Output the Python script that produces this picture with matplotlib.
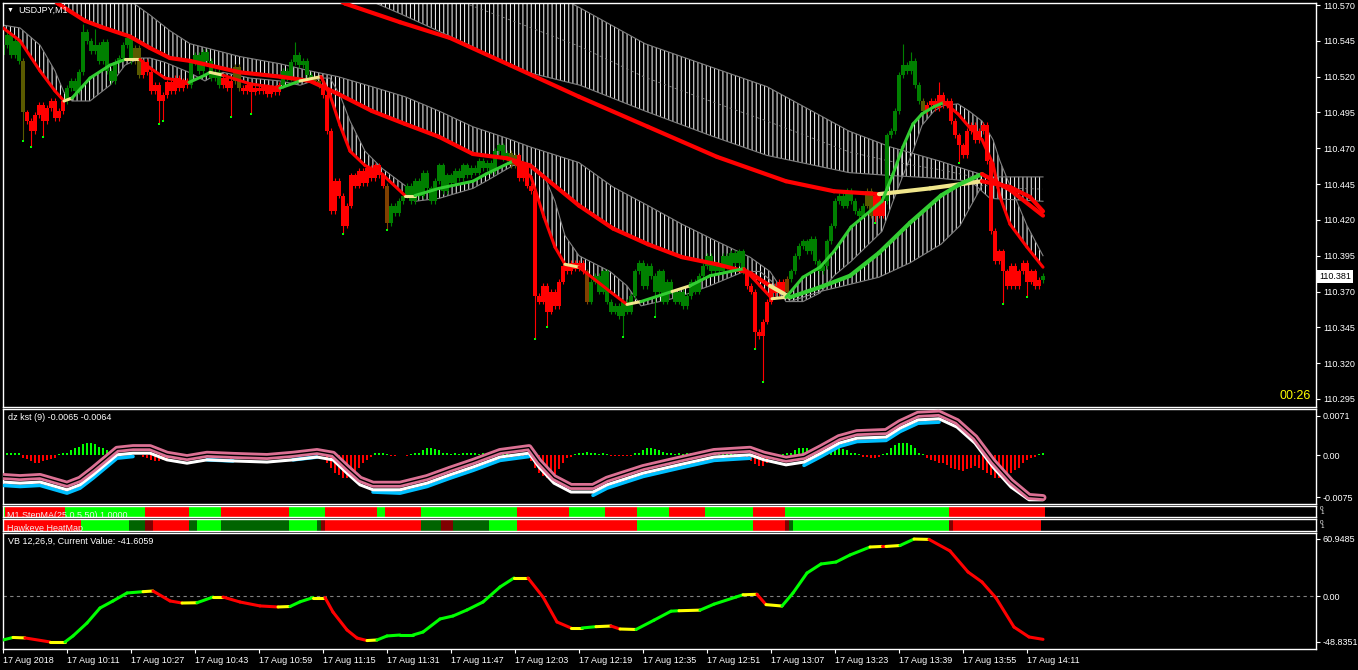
import matplotlib
matplotlib.use("Agg")
import matplotlib.pyplot as plt
import numpy as np

W, H = 1358, 670
FG = "white"
GRAY = "#808080"

plt.rcParams["font.family"] = ["Liberation Sans", "DejaVu Sans"]
plt.rcParams["hatch.color"] = "white"
plt.rcParams["hatch.linewidth"] = 0.7

# USDJPY M1 candles, 17 Aug 2018 09:55 .. 14:15 (bar index 0..260)
first_open = 110.535
closes = [
    110.542, 110.549, 110.535, 110.545, 110.531, 110.495, 110.489, 110.482, 110.493, 110.500,
    110.489, 110.498, 110.503, 110.491, 110.496, 110.503, 110.512, 110.517, 110.510, 110.523,
    110.551, 110.545, 110.538, 110.542, 110.531, 110.544, 110.524, 110.517, 110.530, 110.533,
    110.542, 110.547, 110.531, 110.540, 110.521, 110.530, 110.523, 110.510, 110.514, 110.503,
    110.507, 110.516, 110.510, 110.519, 110.512, 110.517, 110.514, 110.530, 110.535, 110.524,
    110.537, 110.531, 110.519, 110.523, 110.514, 110.519, 110.512, 110.517, 110.527, 110.512,
    110.510, 110.514, 110.509, 110.512, 110.510, 110.513, 110.508, 110.512, 110.509, 110.514,
    110.524, 110.519, 110.530, 110.535, 110.528, 110.531, 110.521, 110.519, 110.517, 110.514,
    110.507, 110.482, 110.426, 110.447, 110.437, 110.416, 110.430, 110.451, 110.444, 110.454,
    110.446, 110.456, 110.449, 110.458, 110.451, 110.444, 110.418, 110.430, 110.425, 110.433,
    110.437, 110.444, 110.433, 110.447, 110.437, 110.453, 110.442, 110.433, 110.447, 110.458,
    110.440, 110.451, 110.446, 110.454, 110.449, 110.458, 110.451, 110.456, 110.453, 110.461,
    110.456, 110.460, 110.454, 110.468, 110.472, 110.463, 110.467, 110.458, 110.465, 110.449,
    110.458, 110.444, 110.440, 110.367, 110.363, 110.374, 110.356, 110.370, 110.360, 110.377,
    110.388, 110.384, 110.390, 110.386, 110.390, 110.384, 110.363, 110.377, 110.381, 110.370,
    110.384, 110.363, 110.356, 110.360, 110.353, 110.363, 110.356, 110.367, 110.384, 110.390,
    110.374, 110.388, 110.381, 110.370, 110.384, 110.363, 110.377, 110.370, 110.363, 110.370,
    110.360, 110.367, 110.377, 110.370, 110.381, 110.388, 110.395, 110.384, 110.390, 110.384,
    110.395, 110.388, 110.397, 110.390, 110.398, 110.384, 110.374, 110.370, 110.342, 110.339,
    110.349, 110.363, 110.374, 110.369, 110.377, 110.370, 110.379, 110.384, 110.395, 110.402,
    110.405, 110.398, 110.407, 110.391, 110.384, 110.388, 110.405, 110.416, 110.433, 110.437,
    110.430, 110.440, 110.433, 110.426, 110.423, 110.430, 110.440, 110.423, 110.437, 110.423,
    110.433, 110.479, 110.482, 110.496, 110.521, 110.528, 110.524, 110.531, 110.514, 110.503,
    110.496, 110.500, 110.503, 110.498, 110.507, 110.500, 110.503, 110.489, 110.479, 110.472,
    110.465, 110.482, 110.486, 110.476, 110.482, 110.486, 110.461, 110.412, 110.391, 110.398,
    110.384, 110.374, 110.388, 110.374, 110.384, 110.390, 110.377, 110.384, 110.374, 110.378,
    110.381,
]
wick_highs = {20: 110.557, 23: 110.553, 31: 110.550, 73: 110.544, 225: 110.543, 227: 110.537,
              234: 110.516}
wick_lows = {5: 110.475, 7: 110.471, 10: 110.478, 39: 110.487, 40: 110.489, 57: 110.492,
             62: 110.494, 85: 110.410, 96: 110.413, 133: 110.337, 136: 110.345, 155: 110.338,
             163: 110.352, 188: 110.330, 190: 110.307, 218: 110.418, 239: 110.460, 250: 110.361,
             256: 110.366}
trend_start = [0, 5, 6, 16, 33, 35, 47, 55, 58, 60, 70, 78, 80, 96, 97, 127, 129, 146, 147,
               186, 196, 197, 216, 218, 221, 230, 231, 260]
trend_state = ["up", "flat", "down", "up", "flat", "down", "up", "down", "flat", "down",
               "up", "flat", "down", "turn", "up", "flat", "down", "turn", "up", "down",
               "turn", "up", "flat", "down", "up", "flat", "down", "up"]

# moving averages (bar index, price, colour state of the following segment)
slow_x = [82, 85.5, 99.25, 111.75, 126.75, 144, 161.25, 178.5, 195.75, 207.75, 219, 231.75,
          244.75, 251.75, 256.75, 260]
slow_y = [110.577, 110.571, 110.558, 110.547, 110.528, 110.506, 110.485, 110.464, 110.447,
          110.440, 110.438, 110.442, 110.447, 110.443, 110.436, 110.426]
slow_state = ["down"] * 10 + ["flat", "flat"] + ["down"] * 4

cloud_x = [86.75, 99.25, 114.25, 129.75, 144.25, 160.5, 176.75, 191, 211.5, 221.75, 234.25,
           242, 246.75, 260]
cloud_top = [110.620, 110.610, 110.600, 110.589, 110.568, 110.543, 110.527, 110.513, 110.482,
             110.471, 110.461, 110.454, 110.450, 110.450]
cloud_bot = [110.579, 110.564, 110.545, 110.524, 110.514, 110.496, 110.479, 110.465, 110.453,
             110.451, 110.449, 110.447, 110.435, 110.433]

mid_x = [10.5, 13.75, 20.5, 24.25, 31.75, 36.75, 41.75, 46.75, 59.25, 69.25, 76.75, 83.75,
         92.25, 100.5, 109, 117.5, 126, 131.75, 144, 152.5, 161.25, 169.75, 178.5, 186.75,
         191.75, 196.75, 204.25, 211.75, 219, 226.75, 234.5, 239.25, 244.75, 251.75, 260]
mid_y = [110.580, 110.571, 110.559, 110.555, 110.548, 110.540, 110.533, 110.531, 110.523,
         110.520, 110.517, 110.508, 110.496, 110.487, 110.478, 110.466, 110.463, 110.458,
         110.430, 110.414, 110.403, 110.394, 110.389, 110.383, 110.374, 110.366, 110.373,
         110.381, 110.397, 110.418, 110.437, 110.445, 110.452, 110.441, 110.423]
mid_edge = [110.620, 110.610, 110.605, 110.598, 110.573, 110.563, 110.552, 110.543, 110.534,
            110.529, 110.524, 110.520, 110.513, 110.506, 110.496, 110.485, 110.477, 110.471,
            110.460, 110.443, 110.430, 110.417, 110.405, 110.394, 110.384, 110.363, 110.370,
            110.375, 110.380, 110.390, 110.403, 110.416, 110.444, np.nan, np.nan]
mid_state = ["down"] * 24 + ["flat"] + ["up"] * 7 + ["down"] * 3

fast_x = [0, 4.25, 9.25, 13, 15.25, 17.25, 21.75, 26.75, 30.5, 34.25,
          36.75, 40.5, 46.5, 50.5, 51.75, 55, 61.75, 69.25, 74.25, 79.5,
          81.75, 84.25, 86.75, 90.5, 94.75, 100.5, 103, 109, 117.5, 120.75,
          127.5, 132, 135.25, 138, 140.5, 144, 151.75, 156, 159.5, 167.25,
          171.75, 176.75, 185.25, 189.25, 192.25, 195.75, 200, 204.25, 207.75, 212,
          219.75, 222.5, 225, 227.5, 229.75, 232.75, 235.25, 238.75, 241.5, 244.75,
          247.5, 249.25, 251.75, 256, 260]
fast_y = [110.554, 110.545, 110.524, 110.510, 110.503, 110.505, 110.519, 110.528, 110.532, 110.532,
          110.526, 110.519, 110.516, 110.521, 110.523, 110.521, 110.515, 110.512, 110.517, 110.520,
          110.507, 110.486, 110.468, 110.458, 110.452, 110.437, 110.437, 110.442, 110.447, 110.452,
          110.461, 110.450, 110.422, 110.401, 110.389, 110.387, 110.370, 110.361, 110.363, 110.370,
          110.374, 110.381, 110.386, 110.374, 110.365, 110.366, 110.380, 110.387, 110.398, 110.415,
          110.433, 110.452, 110.471, 110.487, 110.494, 110.499, 110.502, 110.494, 110.485, 110.476,
          110.459, 110.436, 110.417, 110.401, 110.387]
fast_edge = [110.556, 110.554, 110.542, 110.524, 110.509, 110.503, 110.503, 110.514, 110.528, 110.533,
             110.533, 110.530, 110.523, 110.517, 110.519, 110.523, 110.519, 110.517, 110.514, 110.519,
             110.519, 110.507, 110.489, 110.468, 110.456, 110.444, 110.433, 110.435, 110.442, 110.447,
             110.458, 110.459, 110.451, 110.433, 110.409, 110.395, 110.384, 110.374, 110.360, 110.365,
             110.369, 110.374, 110.384, 110.384, 110.377, 110.363, 110.363, 110.369, 110.381, 110.391,
             110.412, 110.433, 110.451, 110.468, 110.486, 110.496, 110.500, 110.501, 110.496, 110.489,
             110.476, 110.461, 110.444, 110.416, 110.395]
fast_state = ["down", "down", "down", "down", "flat", "up", "up", "up", "flat", "down",
              "down", "down", "up", "up", "flat", "down", "down", "up", "flat", "down",
              "down", "down", "down", "down", "down", "flat", "up", "up", "up", "up",
              "down", "down", "down", "down", "flat", "down", "down", "flat", "up", "flat",
              "up", "up", "down", "down", "flat", "up", "up", "up", "up", "up",
              "up", "up", "up", "up", "up", "up", "down", "down", "down", "down",
              "down", "down", "down", "down", "down"]

price_ticks = [110.570, 110.545, 110.520, 110.495, 110.470, 110.445, 110.420, 110.395,
               110.370, 110.345, 110.320, 110.295]
last_price = 110.381

# dz kst (values in units of 1e-4)
kst_x = [0, 4.25, 9.25, 16, 19.25, 22.5, 26, 28.5, 32.5, 36.75, 41, 46, 51, 57.5, 66, 72.5,
         78.5, 82.5, 86, 89.25, 92.5, 99.25, 106, 111.75, 117.5, 124.25, 131.5, 134, 137.75,
         142, 147.5, 151, 160, 169, 177.75, 186.75, 190.25, 195.75, 200.25, 204.5, 209, 213.5,
         220.75, 224.25, 228.75, 234, 238.5, 243, 247.5, 252, 256.5, 260]
kst_main = [-38, -40, -38, -52, -43, -25, -4, 11, 14, 14, 2, -4, 2, 0, -2, 2, 7, 2, -22, -43,
            -52, -52, -40, -25, -11, 7, 14, -11, -40, -56, -56, -43, -22, -7, 7, 11, 2, -7, -2,
            14, 32, 41, 43, 59, 74, 76, 61, 32, -11, -47, -74, -76]
kst_signal = [-48, -50, -48, -62, -53, -35, -14, 1, 4, 4, -8, -14, -8, -10, -12, -8, -3, -8,
              -32, -53, -62, -62, -50, -35, -21, -3, 4, -21, -50, -66, -66, -53, -32, -17, -3,
              1, -8, -17, -12, 4, 22, 31, 33, 49, 64, 66, 51, 22, -21, -57, -80, -80]
nan = np.nan
kst_slow = [-54, -56, -54, -68, -59, -41, -20, -5, -2, nan, nan, nan, -8, -10, nan, -8, -3,
            nan, nan, nan, -66, -68, -56, -41, -27, -9, -2, nan, nan, nan, -72, -59, -38, -23,
            -9, -5, nan, nan, -18, -2, 16, 25, 27, 43, 58, 60, nan, nan, nan, nan, nan, nan]
kst_hist = [
    5, 5, 4, 4, 4, -4, -7, -11, -13, -13, -11, -9, -7, -4, 2, 4, 5, 9, 13, 16,
    20, 22, 22, 20, 16, 13, 9, 7, 5, 4, 4, 2, 2, 1, 1, -2, -5, -9, -11, -11,
    -9, -7, -5, -4, -2, -2, -1, 2, 4, 4, 5, 5, 4, 2, -2, -4, -5, -7, -5, -5,
    -4, -4, -4, -4, -4, -4, -4, -2, -2, -2, -2, -1, 4, 5, 7, 7, 5, 5, 4, 2,
    1, -14, -23, -31, -36, -40, -40, -36, -31, -22, -14, -9, -2, 4, 5, 5, 2, -1, -1, 1,
    1, -1, 2, 4, 5, 9, 13, 13, 11, 9, 5, 4, 2, 4, 2, 4, 5, 5, 4, 2,
    4, 5, 5, 4, 4, 5, 4, 2, 1, -2, -2, -4, -11, -22, -31, -38, -40, -38, -34, -25,
    -13, -5, -2, 2, 4, 5, 7, 5, 4, 2, 4, 2, -1, -1, -1, -1, -1, -1, 4, 5,
    9, 13, 13, 11, 9, 7, 5, 4, 2, 4, 2, 4, 4, 2, 2, 4, 5, 4, 4, 4,
    2, 4, 4, 2, 1, 1, -5, -11, -16, -20, -20, -13, -7, -4, -2, 2, 4, 5, 9, 13,
    13, 13, 7, 4, 2, 4, 5, 9, 13, 13, 11, 9, 5, 4, 2, -2, -2, -4, -4, -2,
    2, 5, 13, 18, 22, 23, 23, 18, 13, 5, 2, -5, -9, -11, -13, -14, -18, -22, -25, -27,
    -29, -25, -22, -20, -22, -27, -32, -36, -40, -41, -40, -36, -32, -27, -22, -14, -9, -4, -2, 2,
    4,
]

# M1 StepMA and Hawkeye HeatMap strips (first bar of each run)
step_start = [0, 1, 16, 36, 47, 55, 72, 81, 94, 96, 105, 129, 142, 151, 159, 167, 176, 188,
              196, 237]
step_state = ["up", "down"] * 10
heat_start = [0, 20, 32, 36, 38, 47, 49, 55, 72, 79, 80, 81, 105, 110, 113, 122, 129, 159,
              188, 196, 197, 198, 237, 238]
heat_state = ["down", "up", "weak_up", "weak_down", "down", "weak_up", "up", "weak_up", "up",
              "weak_up", "weak_down", "down", "weak_up", "weak_down", "weak_up", "up", "down",
              "up", "down", "weak_down", "weak_up", "up", "weak_down", "down"]

# VB 12,26,9
vb_x = [0, 2.5, 5.5, 11.75, 15.5, 17.5, 21, 24.25, 27.5, 31, 35, 37.5, 41.75, 44.75, 48.5,
        52.5, 55, 59.25, 64.25, 68.75, 71.75, 74.25, 77.5, 80.5, 82.5, 86, 88.5, 91, 93.5, 96,
        99.25, 102.5, 105, 109.25, 112.5, 116, 120, 124.25, 127.75, 131.25, 135, 138.5, 142,
        144.75, 148.25, 152, 154.25, 158.25, 162.75, 167, 169, 174.25, 177.75, 183.25, 185,
        188.5, 190.75, 194.75, 197.5, 201, 204.5, 208.25, 211.75, 216.75, 219.75, 220.75,
        224.25, 227.75, 231.5, 236.75, 241.25, 244.75, 248.25, 252.75, 256.5, 260]
vb_y = [-46.7, -44.0, -44.5, -48.8, -48.8, -42.4, -28.6, -12.6, -5.1, 3.4, 4.8, 5.5, -5.1,
        -7.3, -7.0, -0.9, -0.9, -6.2, -10.4, -11.5, -11.0, -6.0, -1.5, -1.5, -16.9, -36.0,
        -44.6, -47.3, -46.7, -42.4, -41.4, -41.4, -38.2, -24.3, -21.1, -14.7, -6.2, 9.8, 19.4,
        19.4, -0.9, -27.5, -33.9, -33.9, -32.5, -31.8, -35.0, -35.5, -25.6, -16.0, -15.5,
        -14.9, -8.5, -0.9, 1.5, 2.0, -9.0, -10.5, 3.4, 24.7, 34.3, 36.4, 43.9, 52.4, 53.0,
        53.0, 54.0, 60.9, 60.5, 48.2, 25.8, 15.1, -1.9, -32.9, -43.5, -46.0]
vb_state = list("GYRYGGGGGG" "YRRYGYRRRY" "GGYRRRRYGG" "GGGGGGGGYR"
                "RRYGYRYGGG" "YGGGYRYGGG" "GGGYRYGYRR" "RRRRRR")

time_ticks = list(range(0, 257, 16))
time_labels = ["17 Aug 2018", "17 Aug 10:11", "17 Aug 10:27", "17 Aug 10:43", "17 Aug 10:59",
               "17 Aug 11:15", "17 Aug 11:31", "17 Aug 11:47", "17 Aug 12:03", "17 Aug 12:19",
               "17 Aug 12:35", "17 Aug 12:51", "17 Aug 13:07", "17 Aug 13:23", "17 Aug 13:39",
               "17 Aug 13:55", "17 Aug 14:11"]

CANDLE = {"up": "#008000", "down": "#ff0000", "flat": "#5a5a00", "turn": "#804000"}
MA = {"up": "#32cd32", "down": "#ff0000", "flat": "#f0e68c"}
VB = {"G": "#00ff00", "R": "#ff0000", "Y": "#ffff00"}
STRIP = {"up": "#00ff00", "down": "#ff0000", "weak_up": "#006400", "weak_down": "#800000"}


def panel(fig, top, bottom):
    ax = fig.add_axes([3 / W, 1 - bottom / H, 1313 / W, (bottom - top) / H])
    ax.set_facecolor("black")
    for s in ax.spines.values():
        s.set_color(FG)
        s.set_linewidth(1.0)
    ax.set_xlim(0, 328.25)
    ax.tick_params(axis="x", bottom=False, labelbottom=False)
    ax.yaxis.tick_right()
    ax.tick_params(axis="y", colors=FG, labelsize=6.5, length=3, width=0.8, pad=2)
    return ax


def expand_runs(starts, states, n):
    out = []
    for k, s in enumerate(starts):
        end = starts[k + 1] if k + 1 < len(starts) else n
        out += [states[k]] * (end - s)
    return out


def state_line(ax, xs, ys, states, palette, lw, z=4):
    for k in range(len(xs) - 1):
        ax.plot(xs[k:k + 2], ys[k:k + 2], color=palette[states[k]], lw=lw,
                solid_capstyle="round", zorder=z)


def hatch_band(ax, xs, a, b):
    ax.fill_between(xs, a, b, facecolor="none", edgecolor="white", hatch="||||",
                    linewidth=0, zorder=1)


fig = plt.figure(figsize=(W / 100, H / 100), dpi=100, facecolor="black")

# ---- price panel ----
ax = panel(fig, 3, 407)
ax.set_ylim(110.2894, 110.5714)
ax.set_yticks(price_ticks)
ax.set_yticklabels([f"{p:.3f}" for p in price_ticks])

hatch_band(ax, cloud_x, cloud_bot, cloud_top)
ax.plot(cloud_x, cloud_top, color=GRAY, lw=0.8, zorder=1.5)
ax.plot(cloud_x, cloud_bot, color=GRAY, lw=0.8, zorder=1.5)
ax.plot(cloud_x, (np.array(cloud_top) + np.array(cloud_bot)) / 2, color=GRAY, lw=0.6,
        ls=(0, (3, 4)), zorder=1.5)
hatch_band(ax, mid_x, mid_y, mid_edge)
ax.plot(mid_x, mid_edge, color=GRAY, lw=0.8, zorder=1.5)
hatch_band(ax, fast_x, fast_y, fast_edge)
ax.plot(fast_x, fast_edge, color=GRAY, lw=0.8, zorder=1.5)

n = len(closes)
idx = np.arange(n)
c = np.array(closes)
o = np.concatenate([[first_open], c[:-1]])
hi = np.maximum(o, c) + 0.002
lo = np.minimum(o, c) - 0.002
for i, v in wick_highs.items():
    hi[i] = v
for i, v in wick_lows.items():
    lo[i] = v
ccol = [CANDLE[s] for s in expand_runs(trend_start, trend_state, n)]
ax.vlines(idx, lo, hi, colors=ccol, lw=0.8, zorder=2)
ax.bar(idx, np.maximum(np.abs(c - o), 0.0006), bottom=np.minimum(o, c), width=0.8,
       color=ccol, linewidth=0, zorder=2)
tips = sorted(wick_lows)
ax.scatter(tips, [wick_lows[i] for i in tips], s=1.5, marker="s", color="#00ff00",
           linewidths=0, zorder=2.5)

state_line(ax, slow_x, slow_y, slow_state, MA, 3.0)
state_line(ax, mid_x, mid_y, mid_state, MA, 3.0)
state_line(ax, fast_x, fast_y, fast_state, MA, 2.2, z=5)

fig.text(7 / W, 1 - 10.5 / H, "\u25bc", color=FG, fontsize=5, va="center")
fig.text(18 / W, 1 - 10.5 / H, "USDJPY,M1", color=FG, fontsize=6.5, va="center")
fig.text(1311 / W, 1 - 396 / H, "00:26", color="#ffff00", fontsize=9, ha="right", va="center")
fig.text(1319 / W, 1 - 276.5 / H, f"{last_price:.3f}", color="black", fontsize=6.5,
         va="center", bbox=dict(boxstyle="square,pad=0.2", fc="white", ec="none"))

# ---- dz kst ----
ak = panel(fig, 409, 504)
ak.set_ylim(-87.6, 83.6)
ak.set_yticks([71, 0, -75])
ak.set_yticklabels(["0.0071", "0.00", "-0.0075"])
hcol = ["#00ff00" if v >= 0 else "#ff0000" for v in kst_hist]
ak.bar(np.arange(len(kst_hist)), kst_hist, width=0.7, color=hcol, linewidth=0, zorder=2)
ak.plot(kst_x, kst_slow, color="#00bfff", lw=2.6, zorder=3, solid_capstyle="round")
ak.plot(kst_x, kst_signal, color="white", lw=2.2, zorder=3.5, solid_capstyle="round")
ak.plot(kst_x, kst_main, color="#db7093", lw=5.0, zorder=4, solid_capstyle="round")
ak.plot(kst_x, kst_main, color="black", lw=1.0, zorder=4.5)
ak.text(5 / 1313, 1 - 9 / 95, "dz kst (9) -0.0065 -0.0064", transform=ak.transAxes,
        color=FG, fontsize=6.5, va="center")

# ---- StepMA / HeatMap strips ----
for (top, bottom, starts, states, end, label, base) in [
        (506, 517, step_start, step_state, 261, "M1 StepMA(25,0.5,50) 1.0000", -0.05),
        (519, 531, heat_start, heat_state, 260, "Hawkeye HeatMap", 0.0)]:
    a = panel(fig, top, bottom)
    a.set_ylim(0, 1)
    a.set_yticks([])
    for k, s in enumerate(starts):
        e = starts[k + 1] if k + 1 < len(starts) else end
        a.axvspan(s - 0.5, e - 0.5, color=STRIP[states[k]], lw=0)
    a.text(4 / 1313, base, label, transform=a.transAxes, color="#f0f0f0", fontsize=6.5,
           va="baseline", clip_on=True)
    fig.text(1320 / W, 1 - (top + 3) / H, "0", color=FG, fontsize=4.5, va="center")
    fig.text(1320 / W, 1 - (top + 7) / H, "1", color=FG, fontsize=4.5, va="center")

# ---- VB panel ----
av = panel(fig, 533, 649)
av.set_ylim(-56.3, 67.34)
av.set_yticks([60.9485, 0, -48.8351])
av.set_yticklabels(["60.9485", "0.00", "-48.8351"])
av.axhline(0, color=GRAY, lw=0.8, ls=(0, (3, 3)), zorder=1)
state_line(av, vb_x, vb_y, vb_state, VB, 2.2)
av.text(5 / 1313, 1 - 8 / 116, "VB 12,26,9, Current Value: -41.6059", transform=av.transAxes,
        color=FG, fontsize=6.5, va="center")
av.set_xticks(time_ticks)
av.set_xticklabels(time_labels, ha="left")
av.tick_params(axis="x", bottom=True, labelbottom=True, colors=FG, labelsize=6.5,
               length=3, width=0.8, pad=2)

fig.savefig("out.png", dpi=100, facecolor="black")
